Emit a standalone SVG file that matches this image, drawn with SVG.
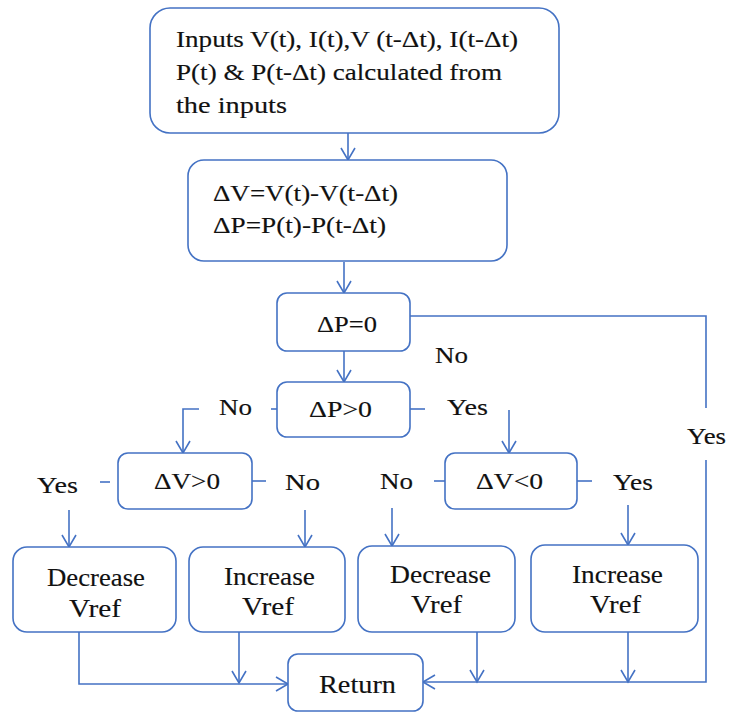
<svg xmlns="http://www.w3.org/2000/svg" width="729" height="713" viewBox="0 0 729 713">
<defs>
<style>
.box{fill:#fff;stroke:#4472C4;stroke-width:1.6}
.ln{fill:none;stroke:#4472C4;stroke-width:1.6}
.ar{marker-end:url(#arr)}
.t text{font-family:'Liberation Serif','Times New Roman',serif;font-size:24px;fill:#111;stroke:#111;stroke-width:0.15}
.t text.big{font-size:26px}
</style>
<marker id="arr" markerUnits="userSpaceOnUse" markerWidth="20" markerHeight="20" refX="13" refY="8" orient="auto" viewBox="0 0 20 20">
<path d="M1,1 L13,8 L1,15" fill="none" stroke="#4472C4" stroke-width="1.6"/>
</marker>
</defs>
<rect width="729" height="713" fill="#fff"/>
<g id="connectors">
<path class="ln ar" d="M348,133 L348,160"/>
<path class="ln ar" d="M344,262 L344,293"/>
<path class="ln ar" d="M344,351 L344,382"/>
<path class="ln" d="M410,316 L706,316 L706,408"/>
<path class="ln ar" d="M706,460 L706,682 L423,682"/>
<path class="ln" d="M277,409 L271,409"/>
<path class="ln ar" d="M199,409 L183,409 L183,453"/>
<path class="ln" d="M410,409 L425,409"/>
<path class="ln ar" d="M509,410 L509,453"/>
<path class="ln" d="M100,482 L110,482"/>
<path class="ln ar" d="M69,510 L69,547"/>
<path class="ln" d="M252,481 L266,481"/>
<path class="ln ar" d="M305,510 L305,547"/>
<path class="ln" d="M434,481 L445,481"/>
<path class="ln ar" d="M392,508 L392,546"/>
<path class="ln" d="M577,481 L592,481"/>
<path class="ln ar" d="M628,505 L628,545"/>
<path class="ln ar" d="M79,632 L79,684 L288,684"/>
<path class="ln ar" d="M239,632 L239,683"/>
<path class="ln ar" d="M477,632 L477,682"/>
<path class="ln ar" d="M628,632 L628,682"/>
</g>
<g id="labels" class="t">
<text x="435" y="363" textLength="33" lengthAdjust="spacingAndGlyphs">No</text>
<text x="219" y="415" textLength="33" lengthAdjust="spacingAndGlyphs">No</text>
<text x="447" y="415" textLength="41" lengthAdjust="spacingAndGlyphs">Yes</text>
<text x="37" y="493" textLength="41" lengthAdjust="spacingAndGlyphs">Yes</text>
<text x="285" y="490" textLength="35" lengthAdjust="spacingAndGlyphs">No</text>
<text x="380" y="489" textLength="33" lengthAdjust="spacingAndGlyphs">No</text>
<text x="613" y="490" textLength="40" lengthAdjust="spacingAndGlyphs">Yes</text>
<text x="687" y="444" textLength="39" lengthAdjust="spacingAndGlyphs">Yes</text>
</g>
<g id="n-inputs" class="t">
<rect class="box" x="150" y="8" width="409" height="125" rx="20"/>
<text x="176" y="47" textLength="342" lengthAdjust="spacingAndGlyphs">Inputs V(t), I(t),V (t-Δt), I(t-Δt)</text>
<text x="176" y="80" textLength="326" lengthAdjust="spacingAndGlyphs">P(t) &amp; P(t-Δt) calculated from</text>
<text x="176" y="113" textLength="111" lengthAdjust="spacingAndGlyphs">the inputs</text>
</g>
<g id="n-delta" class="t">
<rect class="box" x="188" y="160" width="319" height="101" rx="16"/>
<text x="213" y="201" textLength="185" lengthAdjust="spacingAndGlyphs">ΔV=V(t)-V(t-Δt)</text>
<text x="213" y="233" textLength="173" lengthAdjust="spacingAndGlyphs">ΔP=P(t)-P(t-Δt)</text>
</g>
<g id="n-dp0" class="t">
<rect class="box" x="277" y="293" width="133" height="58" rx="10"/>
<text x="317" y="332" textLength="60" lengthAdjust="spacingAndGlyphs">ΔP=0</text>
</g>
<g id="n-dpgt0" class="t">
<rect class="box" x="277" y="382" width="133" height="55" rx="10"/>
<text x="309" y="417" textLength="63" lengthAdjust="spacingAndGlyphs">ΔP&gt;0</text>
</g>
<g id="n-dvgt0" class="t">
<rect class="box" x="118" y="453" width="134" height="56" rx="10"/>
<text x="154" y="489" textLength="66" lengthAdjust="spacingAndGlyphs">ΔV&gt;0</text>
</g>
<g id="n-dvlt0" class="t">
<rect class="box" x="445" y="453" width="132" height="56" rx="10"/>
<text x="476" y="489" textLength="67" lengthAdjust="spacingAndGlyphs">ΔV&lt;0</text>
</g>
<g id="n-dec1" class="t">
<rect class="box" x="13" y="547" width="163" height="85" rx="14"/>
<text class="big" x="47" y="586" textLength="98" lengthAdjust="spacingAndGlyphs">Decrease</text>
<text class="big" x="69" y="617" textLength="52" lengthAdjust="spacingAndGlyphs">Vref</text>
</g>
<g id="n-inc1" class="t">
<rect class="box" x="189" y="547" width="156" height="85" rx="14"/>
<text class="big" x="224" y="585" textLength="91" lengthAdjust="spacingAndGlyphs">Increase</text>
<text class="big" x="242" y="615" textLength="52" lengthAdjust="spacingAndGlyphs">Vref</text>
</g>
<g id="n-dec2" class="t">
<rect class="box" x="358" y="546" width="157" height="86" rx="14"/>
<text class="big" x="390" y="583" textLength="101" lengthAdjust="spacingAndGlyphs">Decrease</text>
<text class="big" x="411" y="613" textLength="51" lengthAdjust="spacingAndGlyphs">Vref</text>
</g>
<g id="n-inc2" class="t">
<rect class="box" x="531" y="545" width="167" height="87" rx="14"/>
<text class="big" x="572" y="583" textLength="91" lengthAdjust="spacingAndGlyphs">Increase</text>
<text class="big" x="590" y="613" textLength="51" lengthAdjust="spacingAndGlyphs">Vref</text>
</g>
<g id="n-return" class="t">
<rect class="box" x="288" y="654" width="135" height="57" rx="10"/>
<text class="big" x="319" y="693" textLength="77" lengthAdjust="spacingAndGlyphs">Return</text>
</g>
</svg>
